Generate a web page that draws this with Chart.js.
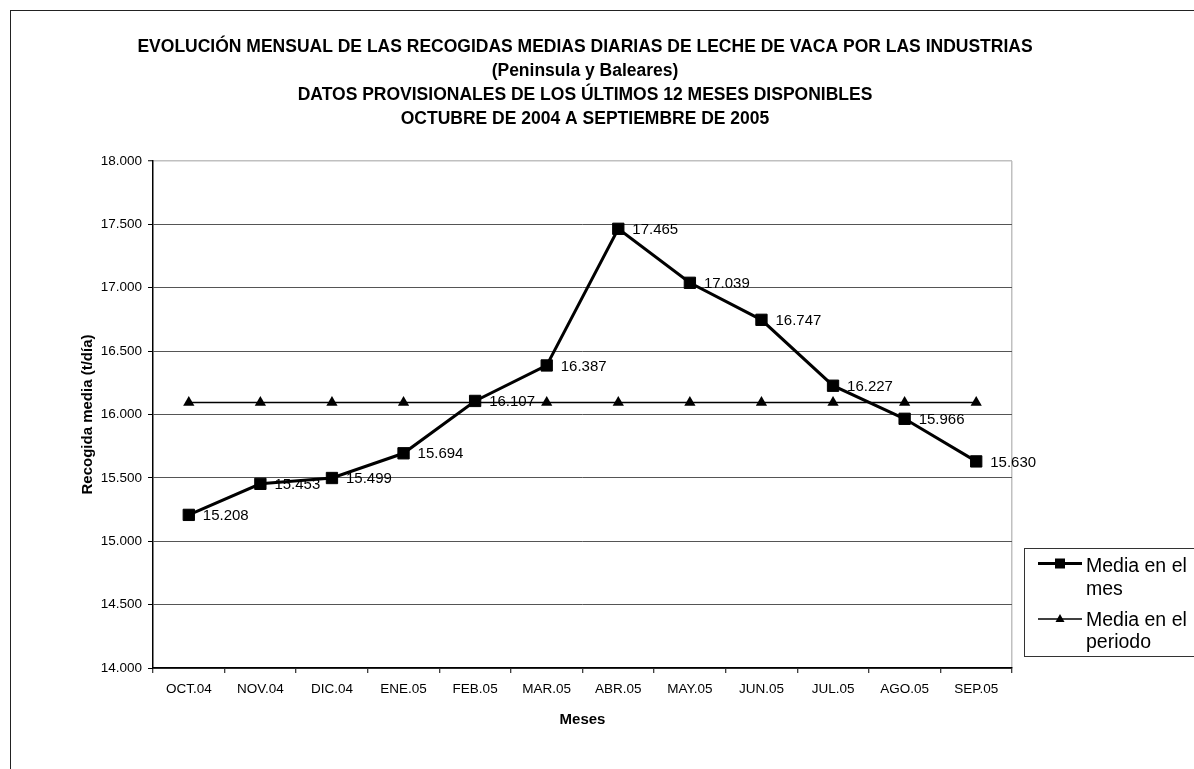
<!DOCTYPE html>
<html lang="es">
<head>
<meta charset="utf-8">
<title>Recogidas medias diarias de leche de vaca</title>
<script src="https://cdn.jsdelivr.net/npm/chart.js@4.4.1/dist/chart.umd.min.js"></script>
<style>
  html, body { margin: 0; padding: 0; background: #fff; }
  canvas { display: block; }
</style>
</head>
<body>
<canvas id="leche" width="1194" height="769"></canvas>
<script>
// datos (t/dia)
var meses = ['OCT.04', 'NOV.04', 'DIC.04', 'ENE.05', 'FEB.05', 'MAR.05',
             'ABR.05', 'MAY.05', 'JUN.05', 'JUL.05', 'AGO.05', 'SEP.05'];
var mediaMes = [15208, 15453, 15499, 15694, 16107, 16387, 17465, 17039, 16747, 16227, 15966, 15630];
var mediaPeriodo = [16095, 16095, 16095, 16095, 16095, 16095, 16095, 16095, 16095, 16095, 16095, 16095];
var ticksY = [14000, 14500, 15000, 15500, 16000, 16500, 17000, 17500, 18000];
var titulo = [
  'EVOLUCIÓN MENSUAL DE LAS RECOGIDAS MEDIAS DIARIAS DE LECHE DE VACA POR LAS INDUSTRIAS',
  '(Peninsula y Baleares)',
  'DATOS PROVISIONALES DE LOS ÚLTIMOS 12 MESES DISPONIBLES',
  'OCTUBRE DE 2004 A SEPTIEMBRE DE 2005'
];
var leyenda = [['Media en el', 'mes'], ['Media en el', 'periodo']];

var FONT = '"Liberation Sans", Arial, sans-serif';

function miles(v) {
  return String(v).replace(/\B(?=(\d{3})+(?!\d))/g, '.');
}

// marco exterior y titulo
var marco = {
  id: 'marco',
  beforeDraw: function (chart) {
    var c = chart.ctx;
    c.save();
    c.strokeStyle = '#222';
    c.lineWidth = 1;
    c.strokeRect(10.5, 10.5, 1300, 900);
    c.restore();
  },
  afterDraw: function (chart) {
    var c = chart.ctx;
    c.save();
    c.beginPath();
    c.rect(0, 0, 1036, 769);
    c.clip();
    c.font = 'bold 17.5px ' + FONT;
    c.fillStyle = '#000';
    c.textAlign = 'center';
    c.textBaseline = 'middle';
    titulo.forEach(function (t, i) {
      c.fillText(t, 585, 47 + i * 24);
    });
    c.restore();
  }
};

// etiquetas de valor a la derecha de cada punto
var etiquetas = {
  id: 'etiquetas',
  afterDatasetsDraw: function (chart) {
    var c = chart.ctx;
    var meta = chart.getDatasetMeta(0);
    c.save();
    c.font = '15px ' + FONT;
    c.fillStyle = '#000';
    c.textAlign = 'left';
    c.textBaseline = 'middle';
    meta.data.forEach(function (pt, i) {
      c.fillText(miles(mediaMes[i]), pt.x + 14, pt.y + 1);
    });
    c.restore();
  }
};

// leyenda en recuadro, texto en dos lineas
var leyendaBox = {
  id: 'leyendaBox',
  afterDraw: function (chart) {
    var c = chart.ctx;
    c.save();
    c.strokeStyle = '#333';
    c.lineWidth = 1;
    c.strokeRect(1024.5, 548.5, 200, 108);

    // media en el mes
    c.strokeStyle = '#000';
    c.lineWidth = 3;
    c.beginPath(); c.moveTo(1038, 563.5); c.lineTo(1082, 563.5); c.stroke();
    c.fillStyle = '#000';
    c.fillRect(1055, 558.5, 10, 10);

    // media en el periodo
    c.lineWidth = 1.5;
    c.beginPath(); c.moveTo(1038, 619); c.lineTo(1082, 619); c.stroke();
    c.beginPath();
    c.moveTo(1060, 614); c.lineTo(1064.5, 622); c.lineTo(1055.5, 622); c.closePath();
    c.fill();

    c.font = '19.5px ' + FONT;
    c.textAlign = 'left';
    c.textBaseline = 'alphabetic';
    c.fillText(leyenda[0][0], 1086, 572);
    c.fillText(leyenda[0][1], 1086, 594.5);
    c.fillText(leyenda[1][0], 1086, 625.5);
    c.fillText(leyenda[1][1], 1086, 648);
    c.restore();
  }
};

var ctx = document.getElementById('leche').getContext('2d');
var grafico = new Chart(ctx, {
  type: 'line',
  data: {
    labels: meses,
    datasets: [{
      label: 'Media en el mes',
      data: mediaMes,
      borderColor: '#000',
      backgroundColor: '#000',
      borderWidth: 3,
      pointStyle: 'rect',
      pointRadius: 8,
      pointBorderWidth: 1,
      pointBackgroundColor: '#000',
      pointBorderColor: '#000',
      tension: 0
    }, {
      label: 'Media en el periodo',
      data: mediaPeriodo,
      borderColor: '#000',
      backgroundColor: '#000',
      borderWidth: 1.5,
      pointStyle: 'triangle',
      pointRadius: 6.5,
      pointBorderWidth: 0,
      pointBackgroundColor: '#000',
      tension: 0
    }]
  },
  options: {
    responsive: false,
    animation: false,
    devicePixelRatio: 1,
    layout: { padding: { left: 0, top: 161, right: 182, bottom: 0 } },
    plugins: {
      legend: { display: false },
      title: { display: false },
      tooltip: { enabled: false }
    },
    scales: {
      x: {
        afterFit: function (s) { s.height = 101; },
        offset: true,
        grid: {
          offset: true,
          drawOnChartArea: true,
          color: function (c) { return c.index === undefined ? '#c0c0c0' : 'rgba(0,0,0,0)'; },
          lineWidth: 1.5,
          tickColor: '#000',
          tickWidth: 1,
          tickLength: 5
        },
        border: { color: '#000', width: 1.5 },
        ticks: {
          color: '#000',
          font: { family: FONT, size: 13.5 },
          padding: 8,
          maxRotation: 0,
          autoSkip: false
        },
        title: {
          display: true,
          text: 'Meses',
          color: '#000',
          font: { family: FONT, size: 15, weight: 'bold' },
          padding: { top: 0, bottom: 40 }
        }
      },
      y: {
        min: 14000,
        max: 18000,
        afterFit: function (s) { s.width = 153; },
        afterBuildTicks: function (s) {
          s.ticks = ticksY.map(function (v) { return { value: v }; });
        },
        grid: {
          color: function (c) { return c.tick && c.tick.value === 18000 ? '#c0c0c0' : '#555'; },
          lineWidth: function (c) { return c.tick && c.tick.value === 18000 ? 1.5 : 1; },
          tickColor: '#000',
          tickWidth: 1,
          tickLength: 5
        },
        border: { color: '#000', width: 1.5 },
        ticks: {
          color: '#000',
          font: { family: FONT, size: 13.5 },
          padding: 6,
          callback: function (v) { return miles(v); }
        },
        title: {
          display: true,
          text: 'Recogida media (t/día)',
          color: '#000',
          font: { family: FONT, size: 15, weight: 'bold' },
          padding: { top: 79, bottom: 0 }
        }
      }
    }
  },
  plugins: [marco, etiquetas, leyendaBox]
});
</script>
</body>
</html>
